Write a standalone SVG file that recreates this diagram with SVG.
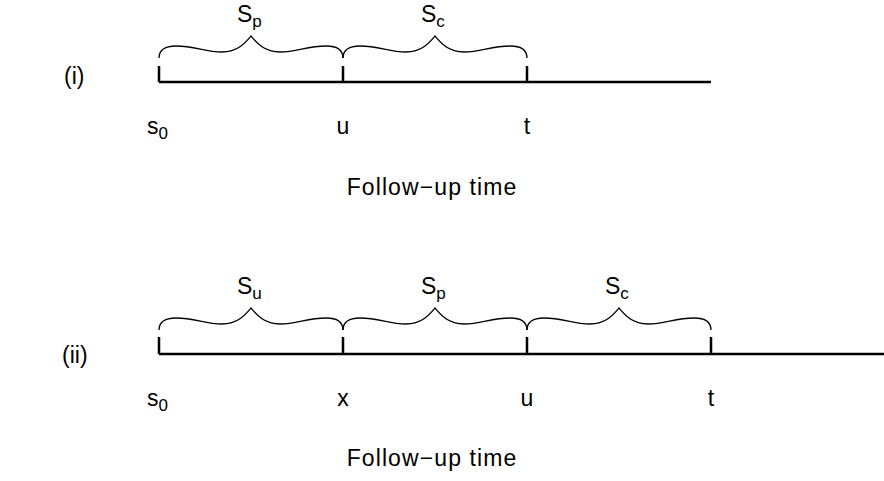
<svg xmlns="http://www.w3.org/2000/svg" width="884" height="481" viewBox="0 0 884 481">
<style>
text{font-family:"Liberation Sans",Arial,sans-serif;font-size:23px;fill:#000}
.sub{font-size:17px}
.mid{text-anchor:middle}
.fu{letter-spacing:1.1px}
.axis{stroke:#000;stroke-width:2.5;fill:none}
.tick{stroke:#000;stroke-width:2.5;fill:none}
.brace{stroke:#000;stroke-width:1.3;fill:none}
</style>
<defs>
<path id="br" d="M0,0 C0,-7 5,-12 17,-12 C36,-12 46,-6 63,-6 C79,-6 87,-16 92,-22 C97,-16 105,-6 121,-6 C138,-6 148,-12 167,-12 C179,-12 184,-7 184,0"/>
</defs>
<g id="panel-i">
<text x="64" y="84">(i)</text>
<g id="axis-i">
<path class="axis" d="M159,82 H711"/>
<path class="tick" d="M159,82 V66 M343,82 V66 M527,82 V66"/>
</g>
<g id="braces-i">
<use href="#br" class="brace" transform="translate(159,58)"/>
<use href="#br" class="brace" transform="translate(343,58)"/>
</g>
<text x="237" y="22">S<tspan class="sub" dy="5">p</tspan></text>
<text x="421" y="22">S<tspan class="sub" dy="5">c</tspan></text>
<text x="147" y="134">s<tspan class="sub" dy="5">0</tspan></text>
<text class="mid" x="343" y="134">u</text>
<text class="mid" x="527" y="134">t</text>
<text class="mid fu" x="432" y="195">Follow−up time</text>
</g>
<g id="panel-ii">
<text x="62" y="363">(ii)</text>
<g id="axis-ii">
<path class="axis" d="M159,354 H884"/>
<path class="tick" d="M159,354 V337 M343,354 V337 M527,354 V337 M711,354 V337"/>
</g>
<g id="braces-ii">
<use href="#br" class="brace" transform="translate(159,330)"/>
<use href="#br" class="brace" transform="translate(343,330)"/>
<use href="#br" class="brace" transform="translate(527,330)"/>
</g>
<text x="237" y="294">S<tspan class="sub" dy="5">u</tspan></text>
<text x="421" y="294">S<tspan class="sub" dy="5">p</tspan></text>
<text x="605" y="294">S<tspan class="sub" dy="5">c</tspan></text>
<text x="147" y="406">s<tspan class="sub" dy="5">0</tspan></text>
<text class="mid" x="343" y="406">x</text>
<text class="mid" x="527" y="406">u</text>
<text class="mid" x="711" y="406">t</text>
<text class="mid fu" x="432" y="466">Follow−up time</text>
</g>
</svg>
